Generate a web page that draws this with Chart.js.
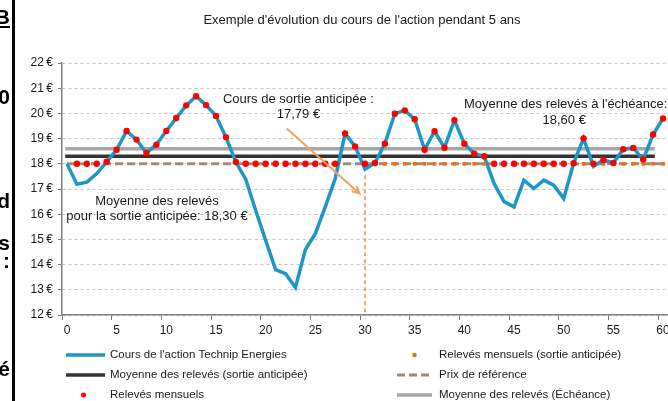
<!DOCTYPE html>
<html>
<head>
<meta charset="utf-8">
<script src="https://cdn.jsdelivr.net/npm/chart.js@4.4.0/dist/chart.umd.min.js"></script>
<style>
  html, body { margin: 0; padding: 0; background: #fff; overflow: hidden; }
  body { width: 668px; height: 401px; position: relative; }
  #chart { position: absolute; left: 0; top: 0; }
  .edge { position: absolute; left: 12px; top: 0; width: 3px; height: 401px; background: #000; }
  .frag { position: absolute; right: 658px; font: bold 21px "Liberation Sans", Arial, sans-serif; color: #000; line-height: 1; }
</style>
</head>
<body>
<canvas id="chart" width="680" height="401"></canvas>
<div class="edge"></div>
<div class="frag" style="top:6px;text-decoration:underline">B</div>
<div class="frag" style="top:86px">0</div>
<div class="frag" style="top:190px">d</div>
<div class="frag" style="top:232px">s</div>
<div class="frag" style="top:250px">:</div>
<div class="frag" style="top:358px">é</div>
<script>
// mois 0..60
const mois = [...Array(61).keys()].map(String);
const xTickLabels = ['0', '5', '10', '15', '20', '25', '30', '35', '40', '45', '50', '55', '60'];
const yTicks = [12, 13, 14, 15, 16, 17, 18, 19, 20, 21, 22];

const cours = [18.0, 17.19, 17.27, 17.61, 18.08, 18.56, 19.3, 18.96, 18.43, 18.76,
  19.3, 19.82, 20.32, 20.68, 20.33, 19.9, 19.06, 18.07, 17.38, 16.15,
  14.96, 13.8, 13.64, 13.09, 14.6, 15.23, 16.29, 17.41, 19.2, 18.69,
  17.79, 18.03, 18.8, 19.99, 20.12, 19.77, 18.56, 19.29, 18.64, 19.73,
  18.8, 18.4, 18.3, 17.21, 16.5, 16.29, 17.35, 17.02, 17.35, 17.15,
  16.62, 18.02, 19.01, 17.9, 18.15, 18.03, 18.58, 18.63, 18.17, 19.16, 19.8];

const releves = [null, 18, 18, 18, 18.08, 18.56, 19.3, 18.96, 18.43, 18.76,
  19.3, 19.82, 20.32, 20.68, 20.33, 19.9, 19.06, 18.07, 18, 18,
  18, 18, 18, 18, 18, 18, 18, 18, 19.2, 18.69,
  18, 18.03, 18.8, 19.99, 20.12, 19.77, 18.56, 19.29, 18.64, 19.73,
  18.8, 18.4, 18.3, 18, 18, 18, 18, 18, 18, 18,
  18, 18.02, 19.01, 18, 18.15, 18.03, 18.58, 18.63, 18.17, 19.16, 19.8];

// relevés après la sortie anticipée (mois 30 à 60)
const relevesSortie = [null, null, null, null, null, null, null, null, null, null,
  null, null, null, null, null, null, null, null, null, null,
  null, null, null, null, null, null, null, null, null, null,
  18, 18, 18, 18, 18, 18, 18, 18, 18, 18,
  18, 18, 18, 18, 18, 18, 18, 18, 18, 18,
  18, 18, 18, 18, 18, 18, 18, 18, 18, 18, 18];

const moyenneSortie = Array(60).fill(18.30);
const moyenneEcheance = Array(60).fill(18.60);
const prixReference = Array(61).fill(18.00);

const sortieMois = '30';
const sortieTrait = [17.55, 12];

const blue = '#1f97c6';
const orange = '#ff6a0a';

// textes et flèche (coordonnées en unités du graphique)
const notes = [
  { text: 'Cours de sortie anticipée :', x: 23.3, y: 20.56 },
  { text: '17,79 €', x: 23.3, y: 19.97 },
  { text: "Moyenne des relevés à l'échéance:", x: 50.2, y: 20.36 },
  { text: '18,60 €', x: 50.05, y: 19.73 },
  { text: 'Moyenne des relevés', x: 9.06, y: 16.52 },
  { text: 'pour la sortie anticipée: 18,30 €', x: 9.06, y: 15.92 }
];
const fleche = { x1: 22.12, y1: 19.40, x2: 29.44, y2: 16.82 };

const legendPos = [
  { ds: 0, col: 0, row: 0 }, { ds: 1, col: 1, row: 0 },
  { ds: 2, col: 0, row: 1 }, { ds: 3, col: 1, row: 1 },
  { ds: 4, col: 0, row: 2 }, { ds: 5, col: 1, row: 2 }
];

const decor = {
  id: 'decor',
  afterDraw(chart) {
    const ctx = chart.ctx;
    const xs = chart.scales.x, ys = chart.scales.y;
    ctx.save();
    ctx.fillStyle = '#1a1a1a';
    ctx.textAlign = 'center';
    ctx.textBaseline = 'middle';

    // titre
    ctx.font = '13px "Liberation Sans", Arial';
    ctx.fillText("Exemple d'évolution du cours de l'action pendant 5 ans", 362, 20);

    // annotations
    ctx.font = '13px "Liberation Sans", Arial';
    notes.forEach(n => {
      ctx.fillText(n.text, xs.getPixelForValue(n.x), ys.getPixelForValue(n.y));
    });

    // flèche
    const ax1 = xs.getPixelForValue(fleche.x1), ay1 = ys.getPixelForValue(fleche.y1);
    const ax2 = xs.getPixelForValue(fleche.x2), ay2 = ys.getPixelForValue(fleche.y2);
    const ang = Math.atan2(ay2 - ay1, ax2 - ax1);
    ctx.strokeStyle = '#f5a25e';
    ctx.lineWidth = 2;
    ctx.beginPath();
    ctx.moveTo(ax1, ay1);
    ctx.lineTo(ax2, ay2);
    ctx.moveTo(ax2 - 8 * Math.cos(ang - 0.45), ay2 - 8 * Math.sin(ang - 0.45));
    ctx.lineTo(ax2, ay2);
    ctx.lineTo(ax2 - 8 * Math.cos(ang + 0.45), ay2 - 8 * Math.sin(ang + 0.45));
    ctx.stroke();

    // légende
    const sampleX = [66, 397], sampleW = [39, 35], textX = [110, 439], rowY = [355, 375, 395];
    ctx.font = '11.5px "Liberation Sans", Arial';
    ctx.textAlign = 'left';
    legendPos.forEach(p => {
      const ds = chart.data.datasets[p.ds];
      const y = rowY[p.row];
      const x0 = sampleX[p.col], w = sampleW[p.col];
      if (ds.showLine === false) {
        ctx.fillStyle = ds.pointBackgroundColor;
        if (ds.pointStyle === 'rect') {
          ctx.fillRect(x0 + w / 2 - 2, y - 2, 4, 4);
        } else {
          ctx.beginPath();
          ctx.arc(x0 + w / 2 - 2, y, 2.5, 0, Math.PI * 2);
          ctx.fill();
        }
      } else {
        ctx.strokeStyle = ds.borderColor;
        ctx.lineWidth = ds.borderWidth;
        ctx.setLineDash(ds.borderDash || []);
        ctx.beginPath();
        ctx.moveTo(x0, y);
        ctx.lineTo(x0 + w, y);
        ctx.stroke();
        ctx.setLineDash([]);
      }
      ctx.fillStyle = '#1a1a1a';
      ctx.fillText(ds.label, textX[p.col], y);
    });
    ctx.restore();
  }
};

const fontAxis = { family: '"Liberation Sans", Arial', size: 12 };

new Chart(document.getElementById('chart'), {
  type: 'line',
  data: {
    labels: mois,
    datasets: [
      { label: "Cours de l'action Technip Energies", data: cours, borderColor: blue, borderWidth: 3.5,
        pointRadius: 0, order: 3 },
      { label: 'Relevés mensuels (sortie anticipée)', data: relevesSortie, showLine: false,
        pointStyle: 'rect', pointRadius: 2.6, pointBackgroundColor: orange, pointBorderWidth: 0, order: 2 },
      { label: 'Moyenne des relevés (sortie anticipée)', data: moyenneSortie, borderColor: '#333333',
        borderWidth: 3.5, borderCapStyle: 'square', pointRadius: 0, order: 5 },
      { label: 'Prix de référence', data: prixReference, borderColor: '#a28a77', borderWidth: 3,
        borderDash: [8, 4], pointRadius: 0, order: 4 },
      { label: 'Relevés mensuels', data: releves, showLine: false, pointStyle: 'circle',
        pointRadius: 3.2, pointBackgroundColor: '#ff0000', pointBorderWidth: 0, order: 1 },
      { label: 'Moyenne des relevés (Échéance)', data: moyenneEcheance, borderColor: '#a6a6a6',
        borderWidth: 3.5, borderCapStyle: 'square', pointRadius: 0, order: 6 },
      { label: 'sortie', data: sortieTrait.map(v => ({ x: sortieMois, y: v })), borderColor: '#f28a48',
        borderWidth: 1.5, borderDash: [4, 3], pointRadius: 0, order: 7 }
    ]
  },
  options: {
    responsive: false,
    animation: false,
    devicePixelRatio: 1,
    layout: { padding: { top: 63, left: 0, right: 12, bottom: 0 } },
    plugins: { legend: { display: false }, tooltip: { enabled: false } },
    scales: {
      x: {
        type: 'category',
        offset: true,
        grid: {
          offset: true, drawOnChartArea: false, tickLength: 5, tickWidth: 1,
          tickColor: c => (c.index !== undefined && c.index % 5 === 0) ? '#777' : 'rgba(0,0,0,0)'
        },
        border: { color: '#808080', width: 1.5 },
        ticks: {
          autoSkip: false, maxRotation: 0, padding: 3, color: '#1a1a1a', font: fontAxis,
          callback: (v, i) => xTickLabels.includes(mois[i]) ? mois[i] : ''
        },
        afterFit: s => { s.height = 86; }
      },
      y: {
        min: yTicks[0], max: yTicks[yTicks.length - 1],
        afterBuildTicks: s => { s.ticks = yTicks.map(v => ({ value: v })); },
        grid: { color: '#c4c4c4', lineWidth: 1, tickColor: '#777', tickLength: 4 },
        border: { color: '#808080', width: 1.5, dash: [3, 3] },
        ticks: { padding: 5, color: '#1a1a1a', font: fontAxis, callback: v => v + '\u2009€' },
        afterFit: s => { s.width = 62; }
      }
    }
  },
  plugins: [decor]
});
</script>
</body>
</html>
